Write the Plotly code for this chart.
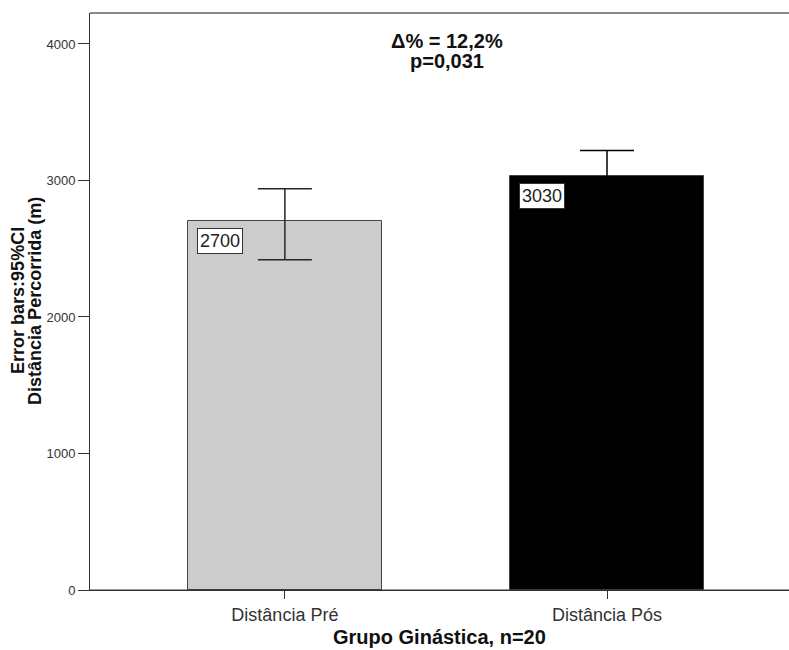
import plotly.graph_objects as go

categories = ["Distância Pré", "Distância Pós"]
means = [2700, 3030]
ci_upper = [2940, 3220]
ci_lower = [2420, 2840]
value_labels = ["2700", "3030"]
bar_colors = ["#cccccc", "#000000"]
err_colors = ["#262626", "#000000"]
y_ticks = [0, 1000, 2000, 3000, 4000]

FONT = "Liberation Sans, Arial, sans-serif"

fig = go.Figure()
for i, cat in enumerate(categories):
    fig.add_trace(go.Bar(
        x=[i], y=[means[i]], width=0.6,
        marker=dict(color=bar_colors[i], line=dict(color="#444444", width=1)),
        error_y=dict(type="data", symmetric=False,
                     array=[ci_upper[i] - means[i]],
                     arrayminus=[means[i] - ci_lower[i]],
                     color=err_colors[i], thickness=1.5, width=27),
        showlegend=False, hoverinfo="skip",
    ))
    fig.add_annotation(
        x=i, y=means[i], xref="x", yref="y",
        text=value_labels[i], showarrow=False,
        xanchor="left", yanchor="top", xshift=-88, yshift=-7,
        font=dict(family=FONT, size=18, color="#222222"),
        bgcolor="white", bordercolor="#333333", borderwidth=1, borderpad=2,
    )

fig.add_annotation(
    x=0.511, y=0.951, xref="paper", yref="paper",
    text="<b>Δ% = 12,2%</b>", showarrow=False,
    font=dict(family=FONT, size=20, color="#111111"),
    xanchor="center", yanchor="middle",
)
fig.add_annotation(
    x=0.511, y=0.917, xref="paper", yref="paper",
    text="<b>p=0,031</b>", showarrow=False,
    font=dict(family=FONT, size=20, color="#111111"),
    xanchor="center", yanchor="middle",
)
fig.add_annotation(
    x=-0.1030, y=0.501, xref="paper", yref="paper",
    text="<b>Error bars:95%CI</b>",
    showarrow=False, textangle=-90,
    font=dict(family=FONT, size=18, color="#111111"),
    xanchor="center", yanchor="middle",
)
fig.add_annotation(
    x=-0.0787, y=0.501, xref="paper", yref="paper",
    text="<b>Distância Percorrida (m)</b>",
    showarrow=False, textangle=-90,
    font=dict(family=FONT, size=18, color="#111111"),
    xanchor="center", yanchor="middle",
)
fig.add_annotation(
    x=0.5, y=0, xref="paper", yref="paper",
    text="<b>Grupo Ginástica, n=20</b>", showarrow=False,
    font=dict(family=FONT, size=20, color="#111111"),
    xanchor="center", yanchor="middle", yshift=-47,
)
fig.add_shape(
    type="line", xref="paper", yref="paper", x0=0, x1=1.05, y0=1, y1=1,
    line=dict(color="#8a8a8a", width=2),
)
fig.add_shape(
    type="line", xref="paper", yref="paper", x0=0, x1=1.05, y0=0, y1=0,
    line=dict(color="#333333", width=1),
)

fig.update_layout(
    width=789, height=650,
    margin=dict(l=90, r=0, t=13, b=60),
    paper_bgcolor="white", plot_bgcolor="white",
    font=dict(family=FONT, color="#333333"),
    bargap=0,
    xaxis=dict(
        range=[-0.605, 1.565], tickvals=[0, 1], ticktext=categories,
        showline=True, linecolor="#333333", linewidth=1, mirror=False,
        ticks="outside", ticklen=8, tickcolor="#333333",
        showgrid=False, zeroline=False,
        tickfont=dict(family=FONT, size=18, color="#333333"),
    ),
    yaxis=dict(
        range=[0, 4227], tickvals=y_ticks,
        showline=True, linecolor="#333333", linewidth=1, mirror=False,
        ticks="outside", ticklen=11, tickcolor="#333333",
        showgrid=False, zeroline=False,
        tickfont=dict(family=FONT, size=13, color="#333333"),
    ),
)

fig.write_html(
    "out.html",
    config={"displayModeBar": False, "responsive": False},
    post_script="document.body.style.margin='0';document.body.style.overflow='hidden';",
)
